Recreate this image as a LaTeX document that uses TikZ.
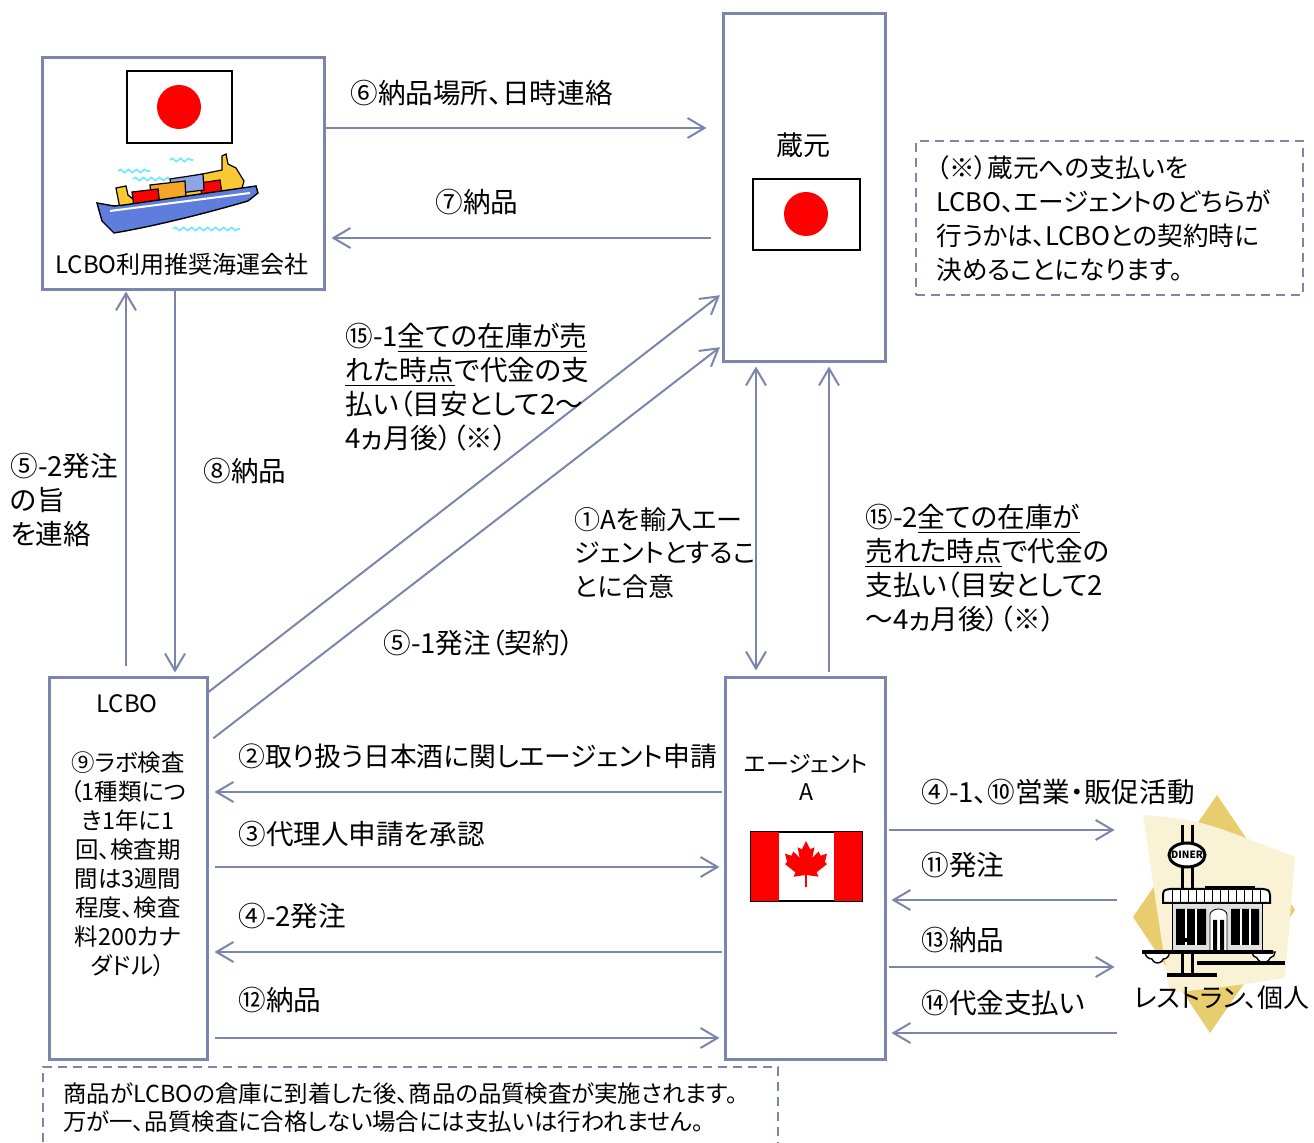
\documentclass[tikz,border=0pt]{standalone}
\usepackage{fontspec}
\setmainfont{Noto Sans CJK JP}[RawFeature=+palt]
\usetikzlibrary{arrows.meta,decorations.pathmorphing}

\definecolor{edge}{RGB}{124,133,171}
\definecolor{hull}{RGB}{95,125,220}
\definecolor{crate}{RGB}{245,165,40}
\definecolor{deck}{RGB}{250,200,50}
\definecolor{wave}{RGB}{110,235,250}
\definecolor{gold}{RGB}{232,205,110}
\definecolor{pale}{RGB}{250,242,212}

\tikzset{
  box/.style={draw=edge, line width=1.5pt, fill=white, inner sep=0pt},
  note/.style={draw=edge, line width=1pt, dash pattern=on 4.5pt off 3pt, inner sep=0pt},
  flow/.style={draw=edge, line width=1pt, >={Straight Barb[length=8.5pt,width=10pt]}, ->},
  lbl/.style={inner sep=0pt, anchor=west, align=left, font=\fontsize{13.8}{16.9}\selectfont},
  waveline/.style={wave, line width=0.8pt, decorate, decoration={snake, amplitude=0.8pt, segment length=4pt}},
}

\begin{document}
\begin{tikzpicture}[x=0.5pt, y=-0.5pt]
\useasboundingbox (0,0) rectangle (1314,1143);

% the four parties
\node[box, minimum width=141pt, minimum height=116pt] (ship) at (183,174) {};
\node[box, minimum width=81pt, minimum height=174pt] (kura) at (804,188) {};
\node[box, minimum width=79pt, minimum height=191pt] (lcbo) at (128,869) {};
\node[box, minimum width=80pt, minimum height=191pt] (agent) at (805,869) {};
\node[minimum width=90pt, minimum height=110pt, inner sep=0pt] (diner) at (1210,915) {};

% dashed notes
\node[note, minimum width=193.5pt, minimum height=77pt] (note1) at (1109.5,218) {};
\node[note, minimum width=367.5pt, minimum height=42pt] (note2) at (410.5,1109) {};

% flags of Japan
\draw[line width=0.6pt, fill=white] (127,71) rectangle (232,143);
\fill[red] (179,107) circle [radius=22];
\draw[line width=0.6pt, fill=white] (753,179) rectangle (860,250);
\fill[red] (806,214) circle [radius=22];

% flag of Canada
\draw[line width=0.6pt, fill=white] (751,832) rectangle (862,901);
\fill[red] (751,832) rectangle (779,901);
\fill[red] (834,832) rectangle (862,901);
\begin{scope}[shift={(806,862)}, scale=2.1, yscale=-1]
  \fill[red] (0,10) -- (-2,6) -- (-4,7) -- (-3,2) -- (-6,5) -- (-7,3) -- (-10,4)
    -- (-9,0) -- (-10,-1) -- (-5,-5) -- (-6,-7) -- (-0.4,-6.2) -- (-0.4,-12)
    -- (0.4,-12) -- (0.4,-6.2) -- (6,-7) -- (5,-5) -- (10,-1) -- (9,0)
    -- (10,4) -- (7,3) -- (6,5) -- (3,2) -- (4,7) -- (2,6) -- cycle;
\end{scope}

% container ship
\draw[waveline] (118,171) -- (150,171);
\draw[waveline] (133,179) -- (177,179);
\draw[waveline] (170,160) -- (193,160);
\draw[waveline] (173,229) -- (240,229);
\filldraw[fill=deck, line width=0.6pt] (183,178) -- (222,170) -- (222,156) -- (226,154)
  -- (228,164) -- (236,168) -- (244,181) -- (241,192) -- (186,199) -- cycle;
\filldraw[fill=red, line width=0.6pt] (200,183) -- (220,180) -- (222,194) -- (202,197) -- cycle;
\filldraw[fill=hull!70, line width=0.6pt] (170,179) -- (203,174) -- (204,190) -- (172,194) -- cycle;
\filldraw[fill=crate, line width=0.6pt] (150,185) -- (185,181) -- (186,200) -- (152,204) -- cycle;
\filldraw[fill=red, line width=0.6pt] (132,192) -- (158,189) -- (160,206) -- (134,209) -- cycle;
\filldraw[fill=deck, line width=0.6pt] (116,188) -- (126,186) -- (128,195) -- (133,199) -- (134,212) -- (121,214) -- cycle;
\filldraw[fill=hull, line width=0.7pt] (97,203) -- (114,206) -- (124,205) -- (256,186) -- (258,193)
  -- (248,201) .. controls (200,215) and (150,227) .. (114,233) -- (102,221) -- cycle;
\draw[white, line width=1pt] (110,211) -- (250,193);

% diner
\fill[gold] (1217,795) -- (1295,910) -- (1210,1033) -- (1133,917) -- cycle;
\fill[pale] (1143,815) .. controls (1200,820) .. (1295,857) -- (1285,978)
  .. controls (1240,985) .. (1170,993) .. controls (1160,930) .. cycle;
\draw[line width=1.5pt] (1182,825) -- (1182,975) (1192,825) -- (1192,975);
\filldraw[fill=gray!25] (1172,903) rectangle (1262,952);
\fill (1176,909) rectangle (1206,945) (1231,909) rectangle (1259,945);
\draw[white, line width=0.8pt] (1186,909) -- (1186,945) (1196,909) -- (1196,945)
  (1241,909) -- (1241,945) (1250,909) -- (1250,945);
\filldraw[fill=white] (1210,952) -- (1210,915) arc [start angle=180, end angle=0, x radius=8.5, y radius=-6] -- (1227,952);
\fill (1213,920) rectangle (1217,950) (1220,920) rectangle (1224,950);
\filldraw[fill=white, line width=1pt] (1163,903) -- (1163,894) .. controls (1164,890) .. (1170,889)
  -- (1263,889) .. controls (1269,890) .. (1270,895) -- (1270,903) -- cycle;
\foreach \x in {1172,1180,...,1262} \draw[line width=0.4pt] (\x,890) -- (\x,902);
\draw[line width=2pt] (1205,888) -- (1255,888);
\filldraw[fill=white, line width=0.7pt] (1145,952) arc [start angle=180, end angle=90, radius=7]
  arc [start angle=160, end angle=20, radius=6] arc [start angle=90, end angle=0, radius=6] -- cycle;
\filldraw[fill=white, line width=0.7pt] (1252,952) arc [start angle=180, end angle=100, radius=6]
  arc [start angle=160, end angle=20, radius=7] arc [start angle=80, end angle=0, radius=6] -- cycle;
\draw[line width=1.6pt] (1182,940) -- (1192,940);
\filldraw[fill=white, line width=1.5pt] (1187,855) ellipse [x radius=18, y radius=12];
\node[font=\bfseries\fontsize{5}{5}\selectfont, inner sep=0pt] (sign) at (1187,855) {DINER};
\draw[line width=2pt] (1142,952) -- (1273,952) (1197,963) -- (1285,963) (1167,975) -- (1217,975);

% texts in the boxes
\node[font=\fontsize{12}{14}\selectfont, inner sep=0pt] (shiptext) at (182,264) {LCBO利用推奨海運会社};
\node[font=\fontsize{13.5}{16}\selectfont, inner sep=0pt] (kuratext) at (803,145) {蔵元};
\node[font=\fontsize{12}{14}\selectfont, inner sep=0pt] (lcbotext) at (127,704) {LCBO};
\node[font=\fontsize{11.7}{14.5}\selectfont, inner sep=0pt, align=center] (labtext) at (128,864)
  {⑨ラボ検査\\（1種類につ\\き1年に1\\回、検査期\\間は3週間\\程度、検査\\料200カナ\\ダドル）};
\node[font=\fontsize{11.5}{14}\selectfont, inner sep=0pt, align=center] (agenttext) at (806,777) {エージェント\\A};
\node[font=\fontsize{13}{15}\selectfont, inner sep=0pt] (dinertext) at (1222,998) {レストラン、個人};
\node[font=\fontsize{12.8}{17}\selectfont, inner sep=0pt, anchor=west, align=left] (note1text) at (936,219)
  {（※）蔵元への支払いを\\LCBO、エージェントのどちらが\\行うかは、LCBOとの契約時に\\決めることになります。};
\node[font=\fontsize{11.7}{14}\selectfont, inner sep=0pt, anchor=west, align=left] (note2text) at (63,1108)
  {商品がLCBOの倉庫に到着した後、商品の品質検査が実施されます。\\万が一、品質検査に合格しない場合には支払いは行われません。};

% shipping company and brewery
\draw[flow, shorten >=7.5pt] (ship.east |- 0,128) -- (kura.west |- 0,128);
\draw[flow, shorten <=5.5pt, shorten >=3pt] (kura.west |- 0,238) -- (ship.east |- 0,238);
\node[lbl] (t6) at (350,93) {⑥納品場所、日時連絡};
\node[lbl] (t7) at (435,202) {⑦納品};

% shipping company and LCBO
\draw[flow, shorten <=5pt] (lcbo.north -| 126,0) -- (ship.south -| 126,0);
\draw[flow, shorten >=2pt] (ship.south -| 175,0) -- (lcbo.north -| 175,0);
\node[lbl] (t52) at (10,500) {⑤-2発注\\の旨\\を連絡};
\node[lbl] (t8) at (203,471) {⑧納品};

% LCBO and brewery
\draw[flow, shorten >=1pt] (lcbo.east |- 0,692) -- (kura.west |- 0,294);
\draw[flow, shorten <=3pt, shorten >=1pt] (lcbo.east |- 0,742) -- (kura.west |- 0,346);
\node[lbl] (t151) at (345,387)
  {⑮-1\underline{全ての在庫が売}\\\underline{れた時点}で代金の支\\払い（目安として2～\\4ヵ月後）（※）};
\node[lbl] (t51) at (383,643) {⑤-1発注（契約）};

% agent and brewery
\draw[flow, <->, shorten <=1.5pt, shorten >=3pt] (kura.south -| 756,0) -- (agent.north -| 756,0);
\draw[flow, shorten <=2pt, shorten >=1.5pt] (agent.north -| 829,0) -- (kura.south -| 829,0);
\node[lbl, font=\fontsize{13}{16.9}\selectfont] (t1) at (574,553) {①Aを輸入エー\\ジェントとするこ\\とに合意};
\node[lbl] (t152) at (865,568)
  {⑮-2\underline{全ての在庫が}\\\underline{売れた時点}で代金の\\支払い（目安として2\\～4ヵ月後）（※）};

% LCBO and agent
\draw[flow, shorten <=1pt, shorten >=3pt] (agent.west |- 0,792) -- (lcbo.east |- 0,792);
\draw[flow, shorten <=3pt, shorten >=2pt] (lcbo.east |- 0,867) -- (agent.west |- 0,867);
\draw[flow, shorten <=1pt, shorten >=3pt] (agent.west |- 0,952) -- (lcbo.east |- 0,952);
\draw[flow, shorten <=3pt, shorten >=2pt] (lcbo.east |- 0,1038) -- (agent.west |- 0,1038);
\node[lbl, font=\fontsize{13.4}{16.9}\selectfont] (t2) at (238,756) {②取り扱う日本酒に関しエージェント申請};
\node[lbl] (t3) at (238,834) {③代理人申請を承認};
\node[lbl] (t42) at (238,916) {④-2発注};
\node[lbl] (t12) at (238,1000) {⑫納品};

% agent and restaurants
\draw[flow, shorten <=1pt, shorten >=2.5pt] (agent.east |- 0,830) -- (diner.west |- 0,830);
\draw[flow, shorten <=1.5pt, shorten >=2.5pt] (diner.west |- 0,900) -- (agent.east |- 0,900);
\draw[flow, shorten <=1pt, shorten >=2.5pt] (agent.east |- 0,967) -- (diner.west |- 0,967);
\draw[flow, shorten <=1.5pt, shorten >=2.5pt] (diner.west |- 0,1033) -- (agent.east |- 0,1033);
\node[lbl] (t41) at (921,792) {④-1、⑩営業・販促活動};
\node[lbl] (t11) at (921,865) {⑪発注};
\node[lbl] (t13) at (921,940) {⑬納品};
\node[lbl] (t14) at (921,1003) {⑭代金支払い};
\end{tikzpicture}
\end{document}
